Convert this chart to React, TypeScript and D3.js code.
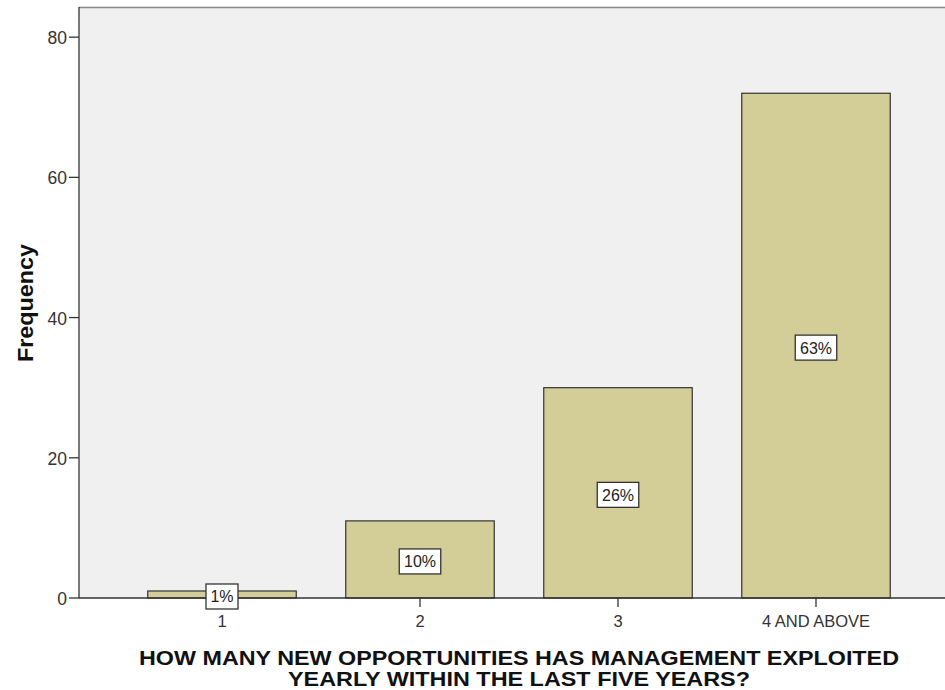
import React from "react";
import * as d3 from "d3";

const categories = ["1", "2", "3", "4 AND ABOVE"];
const frequencies = [1, 11, 30, 72];
const percentLabels = ["1%", "10%", "26%", "63%"];
const yTicks = [0, 20, 40, 60, 80];
const xTitleLines = [
  "HOW MANY NEW OPPORTUNITIES HAS MANAGEMENT EXPLOITED",
  "YEARLY WITHIN  THE LAST FIVE YEARS?",
];
const xTitleWidths = [760, 462];

const W = 945;
const H = 690;
const plotLeft = 79;
const plotTop = 7;
const plotBottom = 598;
const plotRight = 960;

export default function App() {
  const y = d3.scaleLinear().domain([0, 84.3]).range([plotBottom, plotTop]);
  const x = d3
    .scaleBand<string>()
    .domain(categories)
    .range([123, 915])
    .paddingInner(0.25)
    .paddingOuter(0.125);
  const font = "'Liberation Sans', Arial, sans-serif";

  return (
    <svg
      width={W}
      height={H}
      style={{ position: "absolute", left: 0, top: 0, background: "#fff" }}
      fontFamily={font}
    >
      <rect
        x={plotLeft}
        y={plotTop}
        width={plotRight - plotLeft}
        height={plotBottom - plotTop}
        fill="#f0f0f0"
      />
      <line x1={plotLeft} x2={W} y1={plotTop + 0.5} y2={plotTop + 0.5} stroke="#888" strokeWidth={1.5} />
      {categories.map((c, i) => {
        const bx = x(c)!;
        const bw = x.bandwidth();
        const top = y(frequencies[i]);
        return (
          <rect key={c} x={bx} y={top} width={bw} height={plotBottom - top} fill="#d3ce98" stroke="#333" strokeWidth={1.2} />
        );
      })}
      <line x1={plotLeft} x2={W} y1={plotBottom} y2={plotBottom} stroke="#333" strokeWidth={1.3} />
      <line x1={plotLeft} x2={plotLeft} y1={plotTop} y2={plotBottom} stroke="#333" strokeWidth={1.3} />
      {categories.map((c, i) => {
        const bx = x(c)!;
        const bw = x.bandwidth();
        const top = y(frequencies[i]);
        const cx = bx + bw / 2;
        const cy = (top + plotBottom) / 2 + 2;
        const lw = percentLabels[i].length * 9.5 + 13;
        return (
          <g key={"l" + c}>
            <line x1={cx} x2={cx} y1={plotBottom} y2={plotBottom + 9} stroke="#333" strokeWidth={1.3} />
            <rect x={cx - lw / 2} y={cy - 12.5} width={lw} height={25} fill="#fff" stroke="#333" strokeWidth={1.3} />
            <text x={cx} y={cy + 6} textAnchor="middle" fontSize={16} fill="#222">
              {percentLabels[i]}
            </text>
            <text x={cx} y={plotBottom + 29} textAnchor="middle" fontSize={16.5} fill="#333">
              {c}
            </text>
          </g>
        );
      })}
      {yTicks.map((t) => (
        <g key={t}>
          <line x1={plotLeft - 10} x2={plotLeft} y1={y(t)} y2={y(t)} stroke="#333" strokeWidth={1.3} />
          <text x={plotLeft - 12} y={y(t) + 7} textAnchor="end" fontSize={17.5} fill="#333">
            {t}
          </text>
        </g>
      ))}
      <text
        transform={`translate(33,303) rotate(-90)`}
        textAnchor="middle"
        fontSize={22}
        fontWeight="bold"
        fill="#111"
        textLength={118}
        lengthAdjust="spacingAndGlyphs"
      >
        Frequency
      </text>
      {xTitleLines.map((line, i) => (
        <text
          key={i}
          x={519}
          y={665 + i * 21}
          textAnchor="middle"
          fontSize={21}
          fontWeight="bold"
          fill="#111"
          textLength={xTitleWidths[i]}
          lengthAdjust="spacingAndGlyphs"
        >
          {line}
        </text>
      ))}
    </svg>
  );
}
